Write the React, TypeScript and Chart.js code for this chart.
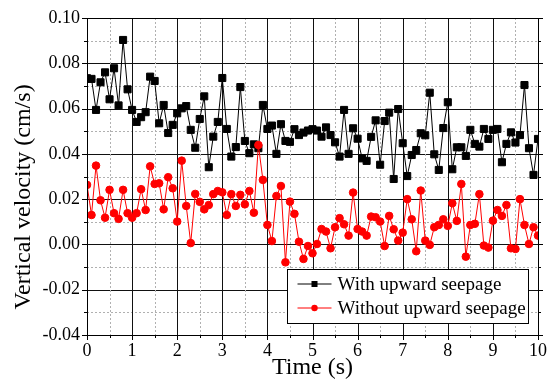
import { useEffect, useRef } from 'react';
import { Chart, registerables } from 'chart.js';

Chart.register(...registerables);

const timeS = [
  0, 0.1, 0.2, 0.3, 0.4, 0.5, 0.6, 0.7, 0.8, 0.9,
  1, 1.1, 1.2, 1.3, 1.4, 1.5, 1.6, 1.7, 1.8, 1.9,
  2, 2.1, 2.2, 2.3, 2.4, 2.5, 2.6, 2.7, 2.8, 2.9,
  3, 3.1, 3.2, 3.3, 3.4, 3.5, 3.6, 3.7, 3.8, 3.9,
  4, 4.1, 4.2, 4.3, 4.4, 4.5, 4.6, 4.7, 4.8, 4.9,
  5, 5.1, 5.2, 5.3, 5.4, 5.5, 5.6, 5.7, 5.8, 5.9,
  6, 6.1, 6.2, 6.3, 6.4, 6.5, 6.6, 6.7, 6.8, 6.9,
  7, 7.1, 7.2, 7.3, 7.4, 7.5, 7.6, 7.7, 7.8, 7.9,
  8, 8.1, 8.2, 8.3, 8.4, 8.5, 8.6, 8.7, 8.8, 8.9,
  9, 9.1, 9.2, 9.3, 9.4, 9.5, 9.6, 9.7, 9.8, 9.9,
  10,
];

const withSeepage = [
  0.0734, 0.0731, 0.0594, 0.0716, 0.0760, 0.0641, 0.0778, 0.0614, 0.0903, 0.0685,
  0.0594, 0.0541, 0.0562, 0.0584, 0.0741, 0.0722, 0.0535, 0.0616, 0.0492, 0.0528,
  0.0579, 0.0601, 0.0611, 0.0506, 0.0427, 0.0554, 0.0654, 0.0341, 0.0476, 0.0541,
  0.0735, 0.0510, 0.0388, 0.0430, 0.0695, 0.0457, 0.0403, 0.0442, 0.0425, 0.0616,
  0.0510, 0.0525, 0.0400, 0.0531, 0.0457, 0.0453, 0.0509, 0.0483, 0.0494, 0.0503,
  0.0509, 0.0503, 0.0476, 0.0517, 0.0483, 0.0451, 0.0388, 0.0594, 0.0400, 0.0513,
  0.0467, 0.0380, 0.0369, 0.0475, 0.0548, 0.0352, 0.0545, 0.0582, 0.0289, 0.0598,
  0.0447, 0.0302, 0.0395, 0.0417, 0.0491, 0.0482, 0.0670, 0.0398, 0.0329, 0.0514,
  0.0628, 0.0332, 0.0429, 0.0429, 0.0391, 0.0506, 0.0444, 0.0432, 0.0510, 0.0466,
  0.0506, 0.0510, 0.0363, 0.0444, 0.0495, 0.0450, 0.0483, 0.0704, 0.0425, 0.0307,
  0.0466,
];

const withoutSeepage = [
  0.0263, 0.0130, 0.0348, 0.0195, 0.0118, 0.0241, 0.0138, 0.0113, 0.0241, 0.0138,
  0.0118, 0.0138, 0.0244, 0.0152, 0.0345, 0.0267, 0.0270, 0.0155, 0.0297, 0.0248,
  0.0101, 0.0370, 0.0170, 0.0006, 0.0223, 0.0188, 0.0155, 0.0174, 0.0222, 0.0236,
  0.0230, 0.0130, 0.0222, 0.0170, 0.0219, 0.0177, 0.0236, 0.0140, 0.0439, 0.0285,
  0.0086, 0.0015, 0.0214, 0.0258, -0.0079, 0.0189, 0.0135, 0.0012, -0.0064, -0.0007,
  -0.0039, 0.0002, 0.0068, 0.0057, -0.0017, 0.0076, 0.0116, 0.0089, 0.0039, 0.0229,
  0.0068, 0.0057, 0.0039, 0.0123, 0.0120, 0.0101, -0.0007, 0.0126, 0.0067, 0.0017,
  0.0052, 0.0200, 0.0111, -0.0030, 0.0238, 0.0017, -0.0002, 0.0076, 0.0086, 0.0111,
  0.0082, 0.0182, 0.0104, 0.0267, -0.0054, 0.0086, 0.0091, 0.0222, -0.0005, -0.0014,
  0.0105, 0.0152, 0.0126, 0.0174, -0.0017, -0.0020, 0.0200, 0.0086, 0.0002, 0.0076,
  0.0039,
];

const seriesNames = ['With upward seepage', 'Without upward seepage'];
const xTitle = 'Time (s)';
const yTitle = 'Vertical velocity (cm/s)';

const FONT = '"Liberation Serif", "Times New Roman", serif';

const gridPlugin = {
  id: 'customGrid',
  beforeDatasetsDraw(chart: any) {
    const { ctx, chartArea, scales } = chart;
    const { left, right, top, bottom } = chartArea;
    ctx.save();
    // horizontal
    scales.y.ticks.forEach((t: any, i: number) => {
      const py = Math.round(scales.y.getPixelForValue(t.value)) + 0.5;
      const major = i % 2 === 0;
      ctx.beginPath();
      ctx.lineWidth = 1;
      if (major) {
        ctx.setLineDash([]);
        ctx.strokeStyle = '#111';
      } else {
        ctx.setLineDash([2, 2]);
        ctx.strokeStyle = '#b0b0b0';
      }
      ctx.moveTo(left, py);
      ctx.lineTo(right, py);
      ctx.stroke();
    });
    scales.x.ticks.forEach((t: any, i: number) => {
      const px = Math.round(scales.x.getPixelForValue(t.value)) + 0.5;
      const major = i % 2 === 0;
      ctx.beginPath();
      ctx.lineWidth = 1;
      if (major) {
        ctx.setLineDash([]);
        ctx.strokeStyle = '#111';
      } else {
        ctx.setLineDash([2, 2]);
        ctx.strokeStyle = '#b0b0b0';
      }
      ctx.moveTo(px, top);
      ctx.lineTo(px, bottom);
      ctx.stroke();
    });
    ctx.setLineDash([]);
    ctx.restore();
  },
  afterDraw(chart: any) {
    const { ctx, chartArea, scales } = chart;
    const { left, right, top, bottom } = chartArea;
    ctx.save();
    // ticks (inward)
    ctx.strokeStyle = '#000';
    ctx.lineWidth = 1;
    scales.y.ticks.forEach((t: any, i: number) => {
      const py = Math.round(scales.y.getPixelForValue(t.value)) + 0.5;
      const len = i % 2 === 0 ? 5 : 3;
      ctx.beginPath();
      ctx.moveTo(left - len, py);
      ctx.lineTo(left, py);
      ctx.moveTo(right, py);
      ctx.lineTo(right + len, py);
      ctx.stroke();
    });
    scales.x.ticks.forEach((t: any, i: number) => {
      const px = Math.round(scales.x.getPixelForValue(t.value)) + 0.5;
      const len = i % 2 === 0 ? 5 : 3;
      ctx.beginPath();
      ctx.moveTo(px, bottom);
      ctx.lineTo(px, bottom + len);
      ctx.stroke();
    });
    // frame
    ctx.strokeStyle = '#000';
    ctx.lineWidth = 1;
    ctx.strokeRect(Math.round(left) + 0.5, Math.round(top) + 0.5, Math.round(right - left), Math.round(bottom - top));

    // titles
    ctx.fillStyle = '#000';
    ctx.font = `24px ${FONT}`;
    ctx.textAlign = 'center';
    ctx.textBaseline = 'middle';
    ctx.fillText(xTitle, (left + right) / 2, 368);
    ctx.save();
    ctx.translate(24, 197);
    ctx.rotate(-Math.PI / 2);
    ctx.fillText(yTitle, 0, 0);
    ctx.restore();

    // legend
    const bx = Math.round(right) - 9.5;
    const by = Math.round(bottom) - 11.5;
    const bw = 241;
    const bh = 54;
    const x0 = bx - bw;
    const y0 = by - bh;
    ctx.fillStyle = '#fff';
    ctx.fillRect(x0, y0, bw, bh);
    ctx.strokeStyle = '#000';
    ctx.lineWidth = 1;
    ctx.strokeRect(x0, y0, bw, bh);
    const colors = ['#000000', '#ff0000'];
    const rows = [y0 + 14.5, y0 + 38.5];
    for (let k = 0; k < 2; k++) {
      const ry = rows[k];
      ctx.strokeStyle = colors[k];
      ctx.fillStyle = colors[k];
      ctx.beginPath();
      ctx.moveTo(x0 + 10, ry);
      ctx.lineTo(x0 + 44, ry);
      ctx.stroke();
      const mx = x0 + 27;
      if (k === 0) {
        ctx.fillRect(mx - 3, ry - 3, 6, 6);
      } else {
        ctx.beginPath();
        ctx.arc(mx, ry, 3.2, 0, Math.PI * 2);
        ctx.fill();
      }
      ctx.fillStyle = '#000';
      ctx.font = `19px ${FONT}`;
      ctx.textAlign = 'left';
      ctx.textBaseline = 'middle';
      ctx.fillText(seriesNames[k], x0 + 50, ry + 1);
    }
    ctx.restore();
  },
};

export default function App() {
  const ref = useRef<HTMLCanvasElement | null>(null);
  useEffect(() => {
    if (!ref.current) return;
    const chart = new Chart(ref.current, {
      type: 'line',
      data: {
        datasets: [
          {
            label: seriesNames[0],
            data: timeS.map((t, i) => ({ x: t, y: withSeepage[i] })),
            borderColor: '#000',
            backgroundColor: '#000',
            borderWidth: 1,
            pointStyle: 'rect',
            pointRadius: 5,
            pointBorderWidth: 1,
            order: 1,
          },
          {
            label: seriesNames[1],
            data: timeS.map((t, i) => ({ x: t, y: withoutSeepage[i] })),
            borderColor: '#ff0000',
            backgroundColor: '#ff0000',
            borderWidth: 1,
            pointStyle: 'circle',
            pointRadius: 3.8,
            pointBorderWidth: 1,
            order: 0,
          },
        ],
      },
      options: {
        animation: false,
        responsive: false,
        layout: { padding: { top: 18, right: 11, left: 0, bottom: 0 } },
        plugins: { legend: { display: false }, tooltip: { enabled: false } },
        scales: {
          x: {
            type: 'linear',
            min: 0,
            max: 10,
            grid: { display: false, drawTicks: false },
            border: { display: false },
            ticks: {
              stepSize: 0.5,
              autoSkip: false,
              maxRotation: 0,
              padding: 5,
              color: '#000',
              font: { family: FONT, size: 18 },
              callback: (v: any, i: number) => (i % 2 === 0 ? String(Math.round(Number(v))) : ''),
            },
            afterFit: (s: any) => {
              s.height = 48;
            },
          },
          y: {
            type: 'linear',
            min: -0.04,
            max: 0.1,
            grid: { display: false, drawTicks: false },
            border: { display: false },
            ticks: {
              stepSize: 0.01,
              autoSkip: false,
              padding: 7,
              color: '#000',
              font: { family: FONT, size: 18 },
              callback: (v: any, i: number) => (i % 2 === 0 ? Number(v).toFixed(2) : ''),
            },
            afterFit: (s: any) => {
              s.width = 87;
            },
          },
        },
      },
      plugins: [gridPlugin],
    });
    return () => chart.destroy();
  }, []);
  return (
    <div style={{ position: 'absolute', left: 0, top: 0, width: 552, height: 383, background: '#fff' }}>
      <canvas ref={ref} width={552} height={383} style={{ display: 'block' }} />
    </div>
  );
}
